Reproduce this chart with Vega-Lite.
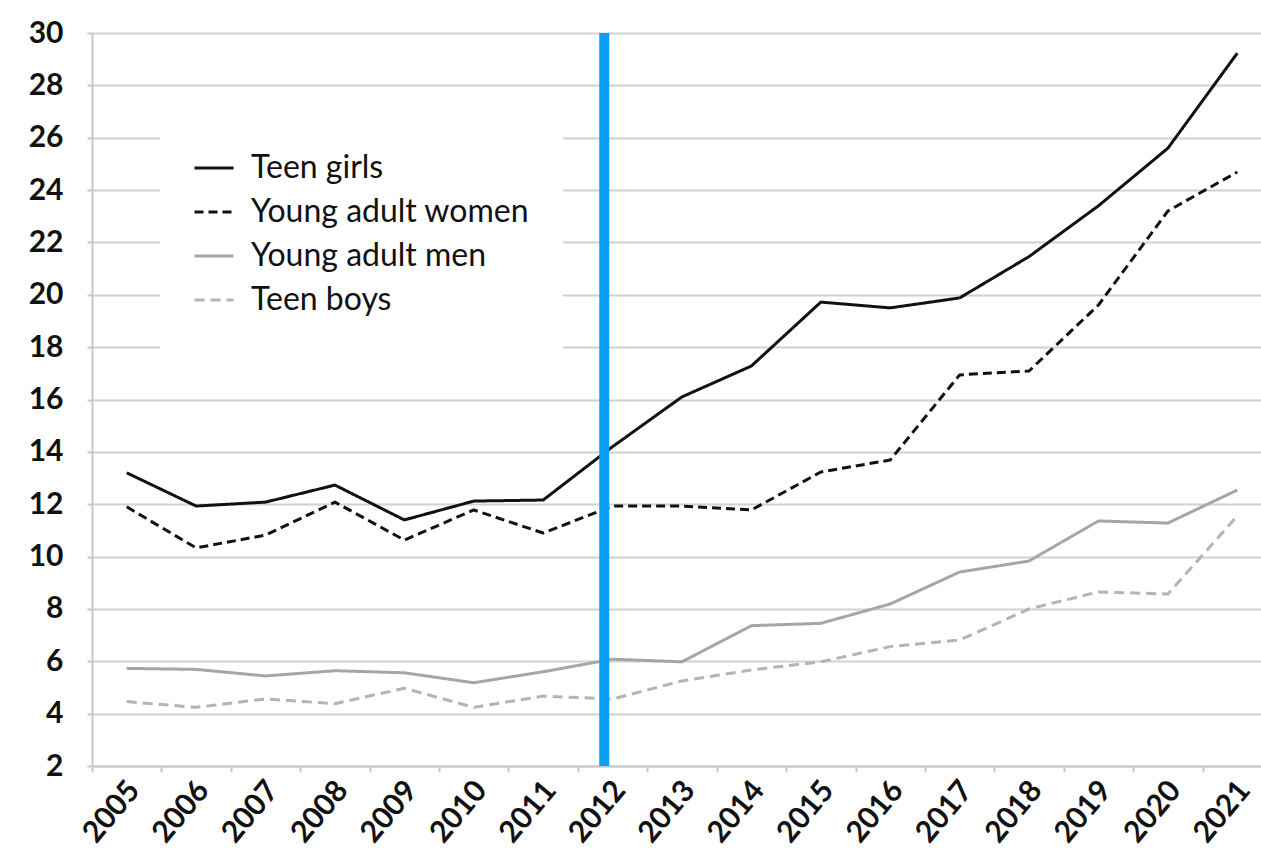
{
  "$schema": "https://vega.github.io/schema/vega-lite/v6.json",
  "width": 1168,
  "height": 733,
  "autosize": {"type": "none"},
  "padding": {"left": 92, "top": 33, "right": 1, "bottom": 84},
  "background": "white",
  "config": {"view": {"stroke": null}, "font": "Lato"},
  "datasets": {
    "rates": [
      {"year": "2005", "Teen girls": 13.2, "Young adult women": 11.9, "Young adult men": 5.73, "Teen boys": 4.46},
      {"year": "2006", "Teen girls": 11.93, "Young adult women": 10.33, "Young adult men": 5.69, "Teen boys": 4.24},
      {"year": "2007", "Teen girls": 12.08, "Young adult women": 10.82, "Young adult men": 5.44, "Teen boys": 4.56},
      {"year": "2008", "Teen girls": 12.73, "Young adult women": 12.08, "Young adult men": 5.64, "Teen boys": 4.38},
      {"year": "2009", "Teen girls": 11.4, "Young adult women": 10.63, "Young adult men": 5.56, "Teen boys": 4.97},
      {"year": "2010", "Teen girls": 12.12, "Young adult women": 11.78, "Young adult men": 5.18, "Teen boys": 4.24},
      {"year": "2011", "Teen girls": 12.16, "Young adult women": 10.9, "Young adult men": 5.6, "Teen boys": 4.67},
      {"year": "2012", "Teen girls": 14.2, "Young adult women": 11.93, "Young adult men": 6.08, "Teen boys": 4.56},
      {"year": "2013", "Teen girls": 16.1, "Young adult women": 11.93, "Young adult men": 5.98, "Teen boys": 5.25},
      {"year": "2014", "Teen girls": 17.28, "Young adult women": 11.78, "Young adult men": 7.36, "Teen boys": 5.67},
      {"year": "2015", "Teen girls": 19.72, "Young adult women": 13.23, "Young adult men": 7.45, "Teen boys": 5.98},
      {"year": "2016", "Teen girls": 19.5, "Young adult women": 13.69, "Young adult men": 8.19, "Teen boys": 6.56},
      {"year": "2017", "Teen girls": 19.88, "Young adult women": 16.94, "Young adult men": 9.41, "Teen boys": 6.81},
      {"year": "2018", "Teen girls": 21.46, "Young adult women": 17.09, "Young adult men": 9.83, "Teen boys": 8.0},
      {"year": "2019", "Teen girls": 23.4, "Young adult women": 19.61, "Young adult men": 11.36, "Teen boys": 8.65},
      {"year": "2020", "Teen girls": 25.6, "Young adult women": 23.2, "Young adult men": 11.28, "Teen boys": 8.57},
      {"year": "2021", "Teen girls": 29.23, "Young adult women": 24.69, "Young adult men": 12.54, "Teen boys": 11.55}
    ]
  },
  "layer": [
    {
      "data": {"name": "rates"},
      "transform": [
        {"fold": ["Teen girls", "Young adult women", "Young adult men", "Teen boys"], "as": ["group", "value"]}
      ],
      "mark": {"type": "line", "strokeWidth": 3, "strokeJoin": "round"},
      "encoding": {
        "x": {
          "field": "year",
          "type": "ordinal",
          "bandPosition": 0.5,
          "scale": {"type": "band", "paddingInner": 0, "paddingOuter": 0, "range": [0, 1180]},
          "axis": {
            "title": null,
            "grid": false,
            "tickBand": "extent",
            "labelAngle": -50,
            "labelAlign": "right",
            "labelBaseline": "middle",
            "labelFontSize": 30,
            "labelFontWeight": "bold",
            "labelColor": "#111111",
            "labelPadding": 13,
            "labelOffset": 7,
            "tickSize": 6,
            "tickColor": "#c8c8c8",
            "tickWidth": 2,
            "domainColor": "#c8c8c8",
            "domainWidth": 2
          }
        },
        "y": {
          "field": "value",
          "type": "quantitative",
          "scale": {"domain": [2, 30], "nice": false, "zero": false},
          "axis": {
            "title": null,
            "values": [2, 4, 6, 8, 10, 12, 14, 16, 18, 20, 22, 24, 26, 28, 30],
            "labelFontSize": 30,
            "labelFontWeight": "bold",
            "labelColor": "#111111",
            "labelPadding": 24,
            "tickSize": 5,
            "tickColor": "#c8c8c8",
            "tickWidth": 2,
            "domainColor": "#c8c8c8",
            "domainWidth": 2,
            "gridColor": "#d2d2d2",
            "gridWidth": 2
          }
        },
        "color": {
          "field": "group",
          "type": "nominal",
          "scale": {
            "domain": ["Teen girls", "Young adult women", "Young adult men", "Teen boys"],
            "range": ["#111111", "#111111", "#a6a6a6", "#b4b4b4"]
          },
          "legend": {
            "title": null,
            "orient": "none",
            "legendX": 68,
            "legendY": 81,
            "symbolType": "stroke",
            "symbolSize": 1521,
            "symbolStrokeWidth": 3,
            "labelFontSize": 32,
            "labelColor": "#111111",
            "labelLimit": 600,
            "labelOffset": 16,
            "rowPadding": 7,
            "padding": 33,
            "fillColor": "white",
            "strokeColor": null
          }
        },
        "strokeDash": {
          "field": "group",
          "type": "nominal",
          "scale": {
            "domain": ["Teen girls", "Young adult women", "Young adult men", "Teen boys"],
            "range": [[1, 0], [9, 5], [1, 0], [10, 6]]
          },
          "legend": null
        }
      }
    },
    {
      "data": {"values": [{"year": "2012"}]},
      "mark": {"type": "rule", "color": "#0a9ff5", "strokeWidth": 10},
      "encoding": {
        "x": {"field": "year", "type": "ordinal", "bandPosition": 0.38}
      }
    }
  ]
}
